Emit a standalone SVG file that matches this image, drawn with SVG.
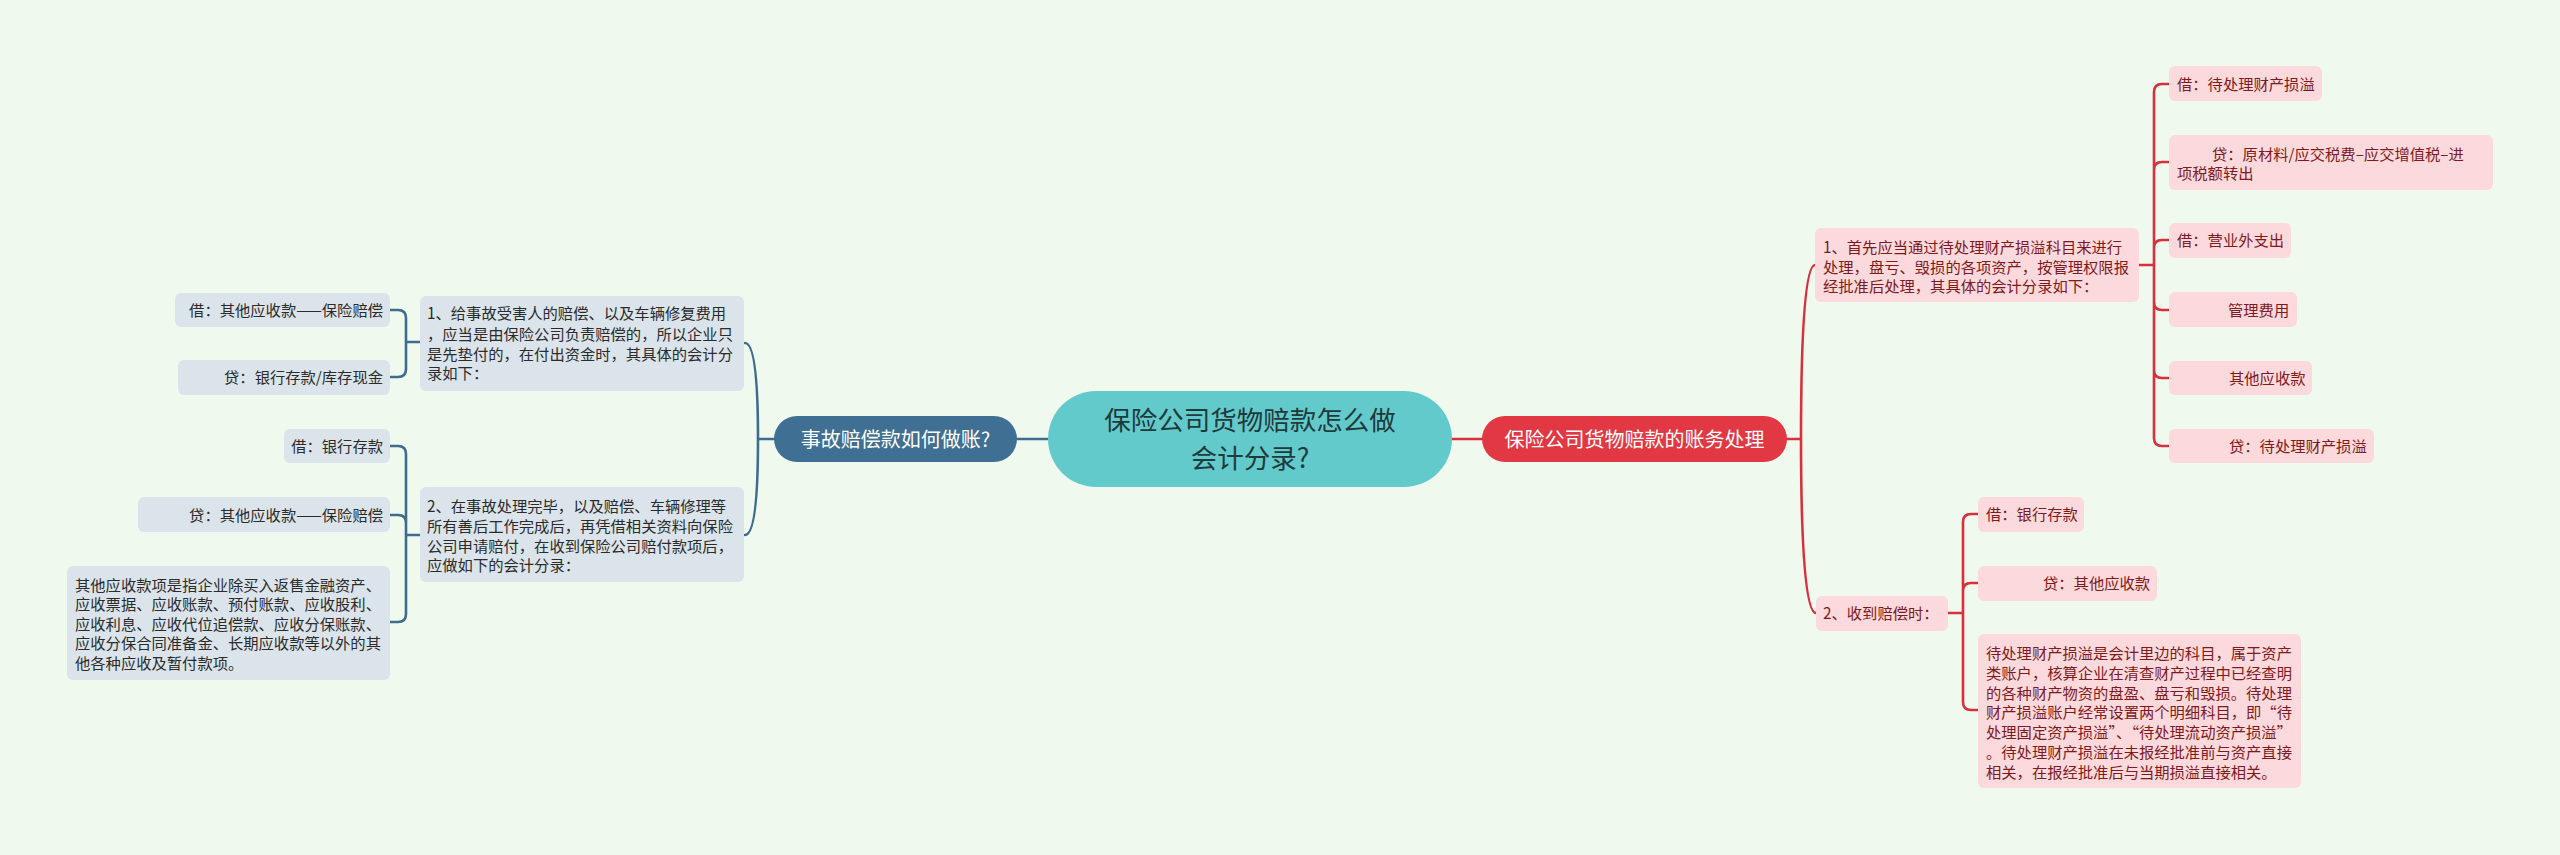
<svg xmlns="http://www.w3.org/2000/svg" width="2560" height="855" viewBox="0 0 2560 855">
<style>
text{font-family:"Noto Sans CJK SC","Noto Sans",sans-serif;}
.bl{fill:#dbe4eb;}
.pk{fill:#fbd9dd;}
.tb{font-size:15.3px;fill:#2b2b2b;}
.tr{font-size:15.3px;fill:#7e1a20;}
.cb{fill:none;stroke:#3d6c8e;stroke-width:2.6;stroke-linecap:round;}
.cr{fill:none;stroke:#d8303c;stroke-width:2.6;stroke-linecap:round;}
.mt{font-size:20px;fill:#ffffff;text-anchor:middle;}
</style>
<rect x="0" y="0" width="2560" height="855" fill="#f0f9ee"/>
<g id="connectors">
<path class="cb" d="M1048,439 H1017"/>
<path class="cb" d="M774,439 H758 M758,439 Q758,343 745,343 M758,439 Q758,535 745,535"/>
<path class="cb" d="M420,342 H406 M406,342 V318 Q406,310 398,310 H390 M406,342 V369 Q406,377 398,377 H390"/>
<path class="cb" d="M420,535 H406 M406,535 V454 Q406,446 398,446 H390 M406,535 V523 Q406,515 398,515 H390 M406,535 V614 Q406,622 398,622 H390"/>
<path class="cr" d="M1452,439 H1482"/>
<path class="cr" d="M1787,439 H1801 M1801,439 Q1801,265 1815,265 M1801,439 Q1801,613 1816,613"/>
<path class="cr" d="M2139,265 H2154 M2154,265 V92 Q2154,84 2162,84 H2169 M2154,265 V170 Q2154,162 2162,162 H2169 M2154,265 V248 Q2154,240 2162,240 H2169 M2154,265 V302 Q2154,310 2162,310 H2169 M2154,265 V370 Q2154,378 2162,378 H2169 M2154,265 V438 Q2154,446 2162,446 H2169"/>
<path class="cr" d="M1948,613 H1963 M1963,613 V522 Q1963,514 1971,514 H1978 M1963,613 V591 Q1963,583 1971,583 H1978 M1963,613 V702 Q1963,710 1971,710 H1978"/>
</g>
<g id="center">
<rect x="1048" y="391" width="404" height="96" rx="48" fill="#63cacc"/>
<text x="1250" y="430" font-size="26.5px" fill="#1f3a3b" text-anchor="middle">保险公司货物赔款怎么做</text>
<text x="1250" y="468" font-size="26.5px" fill="#1f3a3b" text-anchor="middle">会计分录?</text>
</g>
<g id="left-main">
<rect x="774" y="416" width="243" height="46" rx="23" fill="#3f6f92"/>
<text class="mt" x="895.5" y="446.6">事故赔偿款如何做账?</text>
</g>
<g id="right-main">
<rect x="1482" y="416" width="305" height="46" rx="23" fill="#e13843"/>
<text class="mt" x="1634.5" y="446.6">保险公司货物赔款的账务处理</text>
</g>
<g id="L1">
<rect class="bl" x="420" y="296" width="324" height="95" rx="6"/>
<text class="tb" x="427" y="319">1、给事故受害人的赔偿、以及车辆修复费用</text>
<text class="tb" x="427" y="339.5">，应当是由保险公司负责赔偿的，所以企业只</text>
<text class="tb" x="427" y="359.5">是先垫付的，在付出资金时，其具体的会计分</text>
<text class="tb" x="427" y="379">录如下：</text>
</g>
<g id="L2">
<rect class="bl" x="420" y="487" width="324" height="95" rx="6"/>
<text class="tb" x="427" y="511.5">2、在事故处理完毕，以及赔偿、车辆修理等</text>
<text class="tb" x="427" y="531.5">所有善后工作完成后，再凭借相关资料向保险</text>
<text class="tb" x="427" y="551.5">公司申请赔付，在收到保险公司赔付款项后，</text>
<text class="tb" x="427" y="571">应做如下的会计分录：</text>
</g>
<g id="A1">
<rect class="bl" x="175" y="293" width="215" height="34" rx="6"/>
<text class="tb" x="383" y="315.8" text-anchor="end">借：其他应收款——保险赔偿</text>
</g>
<g id="A2">
<rect class="bl" x="178" y="360" width="212" height="35" rx="6"/>
<text class="tb" x="383" y="383" text-anchor="end">贷：银行存款/库存现金</text>
</g>
<g id="B1">
<rect class="bl" x="284" y="429" width="106" height="34" rx="6"/>
<text class="tb" x="383" y="451.8" text-anchor="end">借：银行存款</text>
</g>
<g id="B2">
<rect class="bl" x="138" y="497" width="252" height="35" rx="6"/>
<text class="tb" x="383" y="520.5" text-anchor="end">贷：其他应收款——保险赔偿</text>
</g>
<g id="B3">
<rect class="bl" x="67" y="566" width="323" height="114" rx="6"/>
<text class="tb" x="75" y="590.8">其他应收款项是指企业除买入返售金融资产、</text>
<text class="tb" x="75" y="610">应收票据、应收账款、预付账款、应收股利、</text>
<text class="tb" x="75" y="629.5">应收利息、应收代位追偿款、应收分保账款、</text>
<text class="tb" x="75" y="649">应收分保合同准备金、长期应收款等以外的其</text>
<text class="tb" x="75" y="668.5">他各种应收及暂付款项。</text>
</g>
<g id="R1">
<rect class="pk" x="1815" y="228" width="324" height="74" rx="6"/>
<text class="tr" x="1823" y="252.8">1、首先应当通过待处理财产损溢科目来进行</text>
<text class="tr" x="1823" y="272.5">处理，盘亏、毁损的各项资产，按管理权限报</text>
<text class="tr" x="1823" y="292">经批准后处理，其具体的会计分录如下：</text>
</g>
<g id="R2">
<rect class="pk" x="1816" y="596" width="132" height="35" rx="6"/>
<text class="tr" x="1823" y="619">2、收到赔偿时：</text>
</g>
<g id="C1">
<rect class="pk" x="2169" y="66" width="153" height="35" rx="6"/>
<text class="tr" x="2177" y="89.5">借：待处理财产损溢</text>
</g>
<g id="C2">
<rect class="pk" x="2169" y="135" width="324" height="55" rx="6"/>
<text class="tr" x="2212" y="159.5">贷：原材料/应交税费–应交增值税–进</text>
<text class="tr" x="2177" y="178.8">项税额转出</text>
</g>
<g id="C3">
<rect class="pk" x="2169" y="223" width="122" height="35" rx="6"/>
<text class="tr" x="2177" y="246">借：营业外支出</text>
</g>
<g id="C4">
<rect class="pk" x="2169" y="292" width="128" height="35" rx="6"/>
<text class="tr" x="2228" y="315.5">管理费用</text>
</g>
<g id="C5">
<rect class="pk" x="2169" y="361" width="143" height="34" rx="6"/>
<text class="tr" x="2229" y="383.8">其他应收款</text>
</g>
<g id="C6">
<rect class="pk" x="2169" y="429" width="205" height="34" rx="6"/>
<text class="tr" x="2229" y="451.8">贷：待处理财产损溢</text>
</g>
<g id="D1">
<rect class="pk" x="1978" y="497" width="106" height="35" rx="6"/>
<text class="tr" x="1986" y="520">借：银行存款</text>
</g>
<g id="D2">
<rect class="pk" x="1978" y="566" width="179" height="35" rx="6"/>
<text class="tr" x="2043" y="589">贷：其他应收款</text>
</g>
<g id="D3">
<rect class="pk" x="1978" y="634" width="323" height="154" rx="6"/>
<text class="tr" x="1986" y="658.8">待处理财产损溢是会计里边的科目，属于资产</text>
<text class="tr" x="1986" y="678.5">类账户，核算企业在清查财产过程中已经查明</text>
<text class="tr" x="1986" y="698.5">的各种财产物资的盘盈、盘亏和毁损。待处理</text>
<text class="tr" x="1986" y="718">财产损溢账户经常设置两个明细科目，即“待</text>
<text class="tr" x="1986" y="738">处理固定资产损溢”、“待处理流动资产损溢”</text>
<text class="tr" x="1986" y="757.5">。待处理财产损溢在未报经批准前与资产直接</text>
<text class="tr" x="1986" y="777.5">相关，在报经批准后与当期损溢直接相关。</text>
</g>
</svg>
